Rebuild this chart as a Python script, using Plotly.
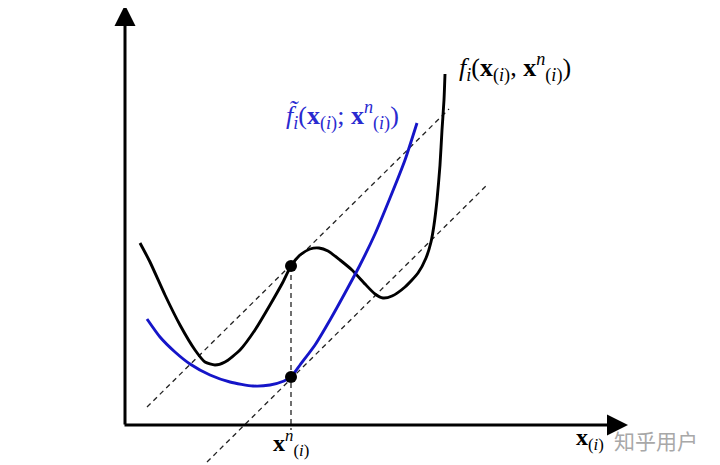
import plotly.graph_objects as go

# Schematic data (drawing units: x to the right, y downward, origin top-left)
f_x = [140, 150, 165, 180, 195, 205, 215, 225, 240, 255, 270, 283, 291, 300, 310, 319, 328, 340, 352, 365, 375, 383, 392, 405, 418, 426, 431, 434, 437, 440, 442, 444, 445]
f_y = [243, 262, 295, 325, 350, 362, 365, 362, 350, 330, 305, 282, 266, 255, 249, 248, 251, 260, 270, 284, 294, 298, 296, 287, 273, 258, 242, 225, 200, 165, 130, 100, 74]

g_x = [147, 160, 175, 190, 210, 230, 253, 270, 284, 291, 300, 315, 330, 345, 360, 375, 390, 405, 417]
g_y = [319, 337, 352, 364, 375, 382, 386, 385, 381, 377, 365, 345, 320, 293, 265, 234, 198, 160, 123]

tan_upper_x = [147, 449]
tan_upper_y = [407, 109]
tan_lower_x = [207, 487]
tan_lower_y = [462, 185]

xn = 291
pt_y = [266, 377]
vline_y = [266, 430]

axis_origin = (125, 425)
x_axis_end = 628
y_axis_end = 5

fig = go.Figure()

dash_style = dict(color="#222222", width=1.3, dash="5px,4px")
fig.add_trace(go.Scatter(x=tan_upper_x, y=tan_upper_y, mode="lines", line=dash_style, hoverinfo="skip"))
fig.add_trace(go.Scatter(x=tan_lower_x, y=tan_lower_y, mode="lines", line=dash_style, hoverinfo="skip"))
fig.add_trace(go.Scatter(x=[xn, xn], y=vline_y, mode="lines", line=dash_style, hoverinfo="skip"))

fig.add_trace(go.Scatter(x=f_x, y=f_y, mode="lines", line=dict(color="black", width=2.9, shape="spline", smoothing=0.6), hoverinfo="skip"))
fig.add_trace(go.Scatter(x=g_x, y=g_y, mode="lines", line=dict(color="#1515c8", width=2.9, shape="spline", smoothing=0.6), hoverinfo="skip"))

fig.add_trace(go.Scatter(x=[xn, xn], y=pt_y, mode="markers", marker=dict(color="black", size=12), hoverinfo="skip"))

# axes with arrowheads
ox, oy = axis_origin
fig.add_annotation(x=x_axis_end, y=oy, ax=ox - 2, ay=oy, xref="x", yref="y", axref="x", ayref="y",
                   showarrow=True, arrowhead=2, arrowsize=1.4, arrowwidth=3, arrowcolor="black", text="")
fig.add_annotation(x=ox, y=y_axis_end, ax=ox, ay=oy + 1, xref="x", yref="y", axref="x", ayref="y",
                   showarrow=True, arrowhead=2, arrowsize=1.4, arrowwidth=3, arrowcolor="black", text="")

serif = "Liberation Serif, DejaVu Serif, serif"
fig.add_annotation(x=457, y=67, xref="x", yref="y", xanchor="left", yanchor="middle", showarrow=False,
                   text="<i>f</i><sub><i>i</i></sub>(<b>x</b><sub>(<i>i</i>)</sub>, <b>x</b><sup><i>n</i></sup><sub>(<i>i</i>)</sub>)",
                   font=dict(family=serif, size=26, color="black"))
fig.add_annotation(x=284, y=115, xref="x", yref="y", xanchor="left", yanchor="middle", showarrow=False,
                   text="<i>f\u0303</i><sub><i>i</i></sub>(<b>x</b><sub>(<i>i</i>)</sub>; <b>x</b><sup><i>n</i></sup><sub>(<i>i</i>)</sub>)",
                   font=dict(family=serif, size=26, color="#2a2ad0"))
fig.add_annotation(x=xn, y=443, xref="x", yref="y", xanchor="center", yanchor="middle", showarrow=False,
                   text="<b>x</b><sup><i>n</i></sup><sub>(<i>i</i>)</sub>",
                   font=dict(family=serif, size=24, color="black"))
fig.add_annotation(x=574, y=439, xref="x", yref="y", xanchor="left", yanchor="middle", showarrow=False,
                   text="<b>x</b><sub>(<i>i</i>)</sub>",
                   font=dict(family=serif, size=24, color="black"))
fig.add_annotation(x=612, y=440, xref="x", yref="y", xanchor="left", yanchor="middle", showarrow=False,
                   text="知乎用户",
                   font=dict(family="Noto Sans CJK SC", size=21, color="#a8a8a8"))

# The page body has an 8px margin; offset ranges so drawing units match page pixels.
page_offset = 8
fig.update_layout(
    width=720, height=465,
    margin=dict(l=0, r=0, t=0, b=0),
    paper_bgcolor="white", plot_bgcolor="white",
    showlegend=False,
    xaxis=dict(range=[page_offset, 720 + page_offset], visible=False, fixedrange=True),
    yaxis=dict(range=[465 + page_offset, page_offset], visible=False, fixedrange=True),
)

fig.write_html("out.html")
